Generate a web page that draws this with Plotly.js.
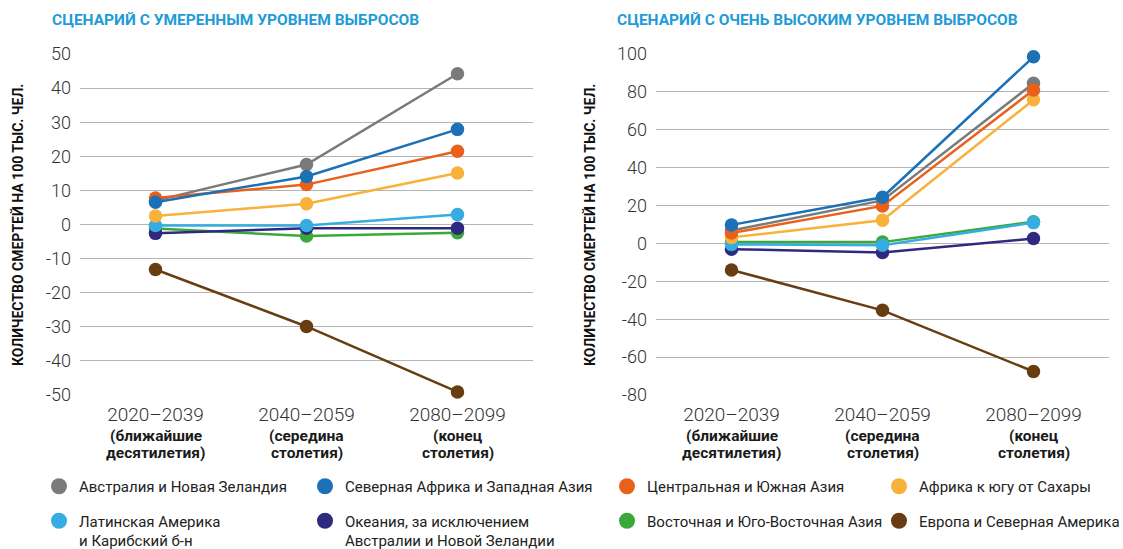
<!DOCTYPE html>
<html>
<head>
<meta charset="utf-8">
<script src="https://cdn.plot.ly/plotly-3.0.1.min.js"></script>
<style>html,body{margin:0;padding:0;background:#fff;}#chart{width:1123px;height:549px;}</style>
</head>
<body>
<div id="chart"></div>
<script>
// ---- data ----
const periods = ['2020–2039', '2040–2059', '2080–2099'];
const periodNotesTop = ['(ближайшие', '(середина', '(конец'];
const periodNotesBottom = ['десятилетия)', 'столетия)', 'столетия)'];

const regionNames = [
  'Австралия и Новая Зеландия',
  'Северная Африка и Западная Азия',
  'Центральная и Южная Азия',
  'Африка к югу от Сахары',
  'Латинская Америка<br>и Карибский б-н',
  'Океания, за исключением<br>Австралии и Новой Зеландии',
  'Восточная и Юго-Восточная Азия',
  'Европа и Северная Америка'
];
const regionColors = ['#7a7a7a', '#1b70b6', '#e9601b', '#f8b13a', '#35ade2', '#2f2a7e', '#3aa93a', '#693d12'];

// moderate-emission scenario (deaths per 100k)
const modAusNZ     = [7.0, 17.6, 44.2];
const modNAfrWAsia = [6.5, 14.1, 27.9];
const modCSAsia    = [7.8, 11.7, 21.5];
const modSSAfrica  = [2.5, 6.1, 15.1];
const modLatAm     = [-0.3, -0.3, 2.9];
const modOceania   = [-2.6, -1.1, -1.1];
const modESEAsia   = [-1.2, -3.4, -2.4];
const modEurNAm    = [-13.2, -29.9, -49.1];

// very-high-emission scenario
const highAusNZ     = [6.8, 22.7, 84.5];
const highNAfrWAsia = [9.8, 24.4, 98.5];
const highCSAsia    = [5.5, 19.8, 81.0];
const highSSAfrica  = [3.2, 12.2, 75.8];
const highLatAm     = [-0.5, -1.0, 11.0];
const highOceania   = [-3.0, -4.8, 2.6];
const highESEAsia   = [0.7, 0.7, 11.5];
const highEurNAm    = [-14.0, -35.3, -67.6];

const modTickVals = [-50, -40, -30, -20, -10, 0, 10, 20, 30, 40, 50];
const modTickText = ['-50', '-40', '-30', '-20', '-10', '0', '10', '20', '30', '40', '50'];
const highTickVals = [-80, -60, -40, -20, 0, 20, 40, 60, 80, 100];
const highTickText = ['-80', '-60', '-40', '-20', '0', '20', '40', '60', '80', '100'];

const titleLeft = 'СЦЕНАРИЙ С УМЕРЕННЫМ УРОВНЕМ ВЫБРОСОВ';
const titleRight = 'СЦЕНАРИЙ С ОЧЕНЬ ВЫСОКИМ УРОВНЕМ ВЫБРОСОВ';
const yTitle = 'КОЛИЧЕСТВО СМЕРТЕЙ НА 100 ТЫС. ЧЕЛ.';

// ---- build ----
const modSeries = [modAusNZ, modNAfrWAsia, modCSAsia, modSSAfrica, modLatAm, modOceania, modESEAsia, modEurNAm];
const highSeries = [highAusNZ, highNAfrWAsia, highCSAsia, highSSAfrica, highLatAm, highOceania, highESEAsia, highEurNAm];
const drawOrder = [7, 6, 5, 4, 3, 0, 2, 1];

const traces = [];
function addSeries(series, xa, ya) {
  drawOrder.forEach(i => {
    traces.push({
      type: 'scatter', mode: 'lines+markers',
      x: periods, y: series[i], xaxis: xa, yaxis: ya,
      name: regionNames[i], showlegend: false, cliponaxis: false,
      line: {color: regionColors[i], width: 2.5},
      marker: {color: regionColors[i], size: 13.5},
      hoverinfo: 'skip'
    });
  });
}
addSeries(modSeries, 'x', 'y');
addSeries(highSeries, 'x2', 'y2');

// legend-only entries, 4 columns of 2 rows
const legendIds = ['legend', 'legend2', 'legend3', 'legend4'];
for (let i = 0; i < 8; i++) {
  traces.push({
    type: 'scatter', mode: 'markers', x: [null], y: [null], xaxis: 'x', yaxis: 'y',
    name: regionNames[i], showlegend: true, legend: legendIds[i % 4], legendgroup: 'g' + i,
    marker: {color: regionColors[i], size: 18}
  });
}

const W = 1123, H = 549;
const px = v => v / W, py = v => 1 - v / H;
const font = 'Roboto, "Liberation Sans", sans-serif';

const legendCols = [39, 305, 607, 879];
const legends = {};
legendIds.forEach((id, k) => {
  legends[id] = {
    x: px(legendCols[k]), y: py(470), xanchor: 'left', yanchor: 'top',
    orientation: 'v', bgcolor: 'rgba(0,0,0,0)', borderwidth: 0,
    font: {family: font, size: 15, color: '#222'},
    itemsizing: 'trace', itemwidth: 30, valign: 'top', tracegroupgap: 12,
    maxheight: 200, itemclick: false, itemdoubleclick: false
  };
});

const annotations = [];
annotations.push({xref: 'paper', yref: 'paper', x: px(50), y: py(20), xanchor: 'left', yanchor: 'middle',
  text: '<b>' + titleLeft + '</b>', showarrow: false, font: {family: font, size: 15.5, color: '#1f9bd8'}});
annotations.push({xref: 'paper', yref: 'paper', x: px(615), y: py(20), xanchor: 'left', yanchor: 'middle',
  text: '<b>' + titleRight + '</b>', showarrow: false, font: {family: font, size: 15.5, color: '#1f9bd8'}});
[18, 590].forEach(xp => {
  annotations.push({xref: 'paper', yref: 'paper', x: px(xp), y: py(225), xanchor: 'center', yanchor: 'middle',
    text: '<b>' + yTitle + '</b>', textangle: -90, showarrow: false, font: {family: font, size: 14, color: '#111'}});
});
['x', 'x2'].forEach(xa => {
  periods.forEach((p, i) => {
    [[periodNotesTop[i], 436], [periodNotesBottom[i], 453]].forEach(([t, yy]) => {
      annotations.push({xref: xa, yref: 'paper', x: p, y: py(yy), xanchor: 'center', yanchor: 'middle',
        text: '<b>' + t + '</b>', showarrow: false,
        font: {family: font, size: 15.5, color: '#1a1a1a'}});
    });
  });
});

const xCommon = {type: 'category', range: [-0.5, 2.5], showgrid: false, zeroline: false, showline: false,
  ticks: '', ticklabelstandoff: 6, tickfont: {family: font, size: 19, color: '#333', weight: 300}, fixedrange: true};
const yCommon = {showgrid: true, gridcolor: '#b4b4b4', gridwidth: 1, zeroline: false, showline: false,
  ticks: '', ticklabelstandoff: 8, tickfont: {family: font, size: 18, color: '#333', weight: 300}, fixedrange: true};

const layout = Object.assign({
  width: W, height: H, margin: {l: 0, r: 0, t: 0, b: 0, autoexpand: false},
  paper_bgcolor: '#fff', plot_bgcolor: '#fff', showlegend: true,
  xaxis: Object.assign({}, xCommon, {domain: [px(80), px(533)], anchor: 'y', automargin: false}),
  xaxis2: Object.assign({}, xCommon, {domain: [px(656), px(1109)], anchor: 'y2', automargin: false}),
  yaxis: Object.assign({}, yCommon, {domain: [1 - 395 / H, 1 - 54 / H], range: [-50, 50],
    tickvals: modTickVals, ticktext: modTickText, anchor: 'x', automargin: false}),
  yaxis2: Object.assign({}, yCommon, {domain: [1 - 395 / H, 1 - 54 / H], range: [-80, 100],
    tickvals: highTickVals, ticktext: highTickText, anchor: 'x2', automargin: false}),
  annotations: annotations
}, legends);

Plotly.newPlot('chart', traces, layout, {displayModeBar: false, staticPlot: true});
</script>
</body>
</html>
